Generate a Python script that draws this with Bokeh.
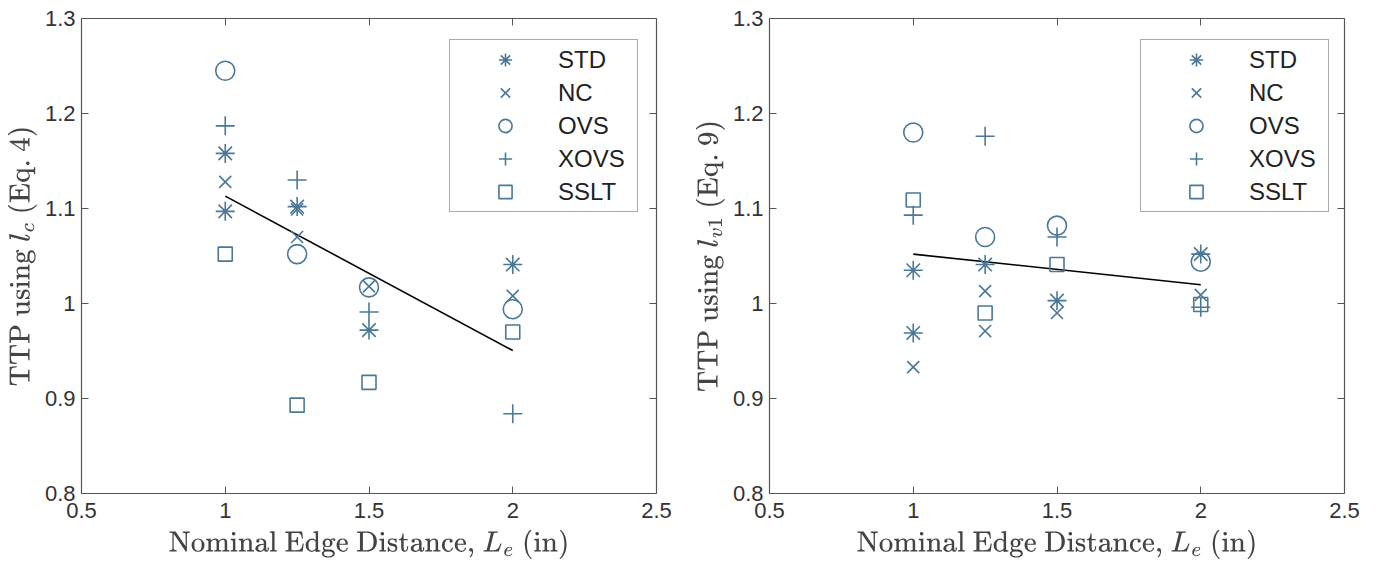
from bokeh.plotting import figure
from bokeh.layouts import row
from bokeh.models import LinearAxis, FixedTicker, CustomJSTickFormatter, Legend, LegendItem, Range1d
from bokeh.embed import file_html
from bokeh.resources import INLINE

series = ["STD", "NC", "OVS", "XOVS", "SSLT"]
markers = {"STD": "asterisk", "NC": "x", "OVS": "circle", "XOVS": "cross", "SSLT": "square"}
sizes = {"STD": 19, "NC": 17, "OVS": 19, "XOVS": 19, "SSLT": 14}

# Left panel: TTP using l_c (Eq. 4)
left_x = {
    "STD": [1, 1, 1.25, 1.5, 2],
    "NC": [1, 1.25, 1.25, 1.5, 2],
    "OVS": [1, 1.25, 1.5, 2],
    "XOVS": [1, 1.25, 1.5, 2],
    "SSLT": [1, 1.25, 1.5, 2],
}
left_y = {
    "STD": [1.158, 1.097, 1.102, 0.972, 1.041],
    "NC": [1.128, 1.099, 1.070, 1.018, 1.008],
    "OVS": [1.245, 1.052, 1.017, 0.994],
    "XOVS": [1.187, 1.130, 0.991, 0.884],
    "SSLT": [1.052, 0.893, 0.917, 0.970],
}
left_fit_x = [1, 2]
left_fit_y = [1.113, 0.9505]

# Right panel: TTP using l_v1 (Eq. 9)
right_x = {
    "STD": [1, 1, 1.25, 1.5, 2],
    "NC": [1, 1.25, 1.25, 1.5, 2],
    "OVS": [1, 1.25, 1.5, 2],
    "XOVS": [1, 1.25, 1.5, 2],
    "SSLT": [1, 1.25, 1.5, 2],
}
right_y = {
    "STD": [1.035, 0.969, 1.041, 1.003, 1.052],
    "NC": [0.933, 1.013, 0.971, 0.990, 1.009],
    "OVS": [1.180, 1.070, 1.082, 1.044],
    "XOVS": [1.093, 1.176, 1.070, 0.996],
    "SSLT": [1.109, 0.990, 1.041, 0.999],
}
right_fit_x = [1, 2]
right_fit_y = [1.052, 1.0197]

x_ticks = [0.5, 1, 1.5, 2, 2.5]
y_ticks = [0.8, 0.9, 1.0, 1.1, 1.2, 1.3]

COLOR = "#4a7896"
AXC = "#555555"

fmt_code = "return Number(tick.toFixed(2)).toString();"


def make_panel(xs, ys, fx, fy, ylabel, legend_x):
    p = figure(frame_width=575, frame_height=475, output_backend="svg", toolbar_location=None,
               x_range=Range1d(0.5, 2.5), y_range=Range1d(0.8, 1.3),
               min_border_left=81, min_border_right=32,
               min_border_top=18, min_border_bottom=68, background_fill_color="white",
               border_fill_color="white")
    p.grid.visible = False
    p.outline_line_color = None
    for ax, ticks in ((p.xaxis[0], x_ticks), (p.yaxis[0], y_ticks)):
        ax.ticker = FixedTicker(ticks=ticks)
        ax.formatter = CustomJSTickFormatter(code=fmt_code)
        ax.major_tick_in = 7
        ax.major_tick_out = 0
        ax.minor_tick_line_color = None
        ax.axis_line_color = AXC
        ax.major_tick_line_color = AXC
        ax.axis_line_width = 1.2
        ax.major_label_text_font = "Liberation Sans"
        ax.major_label_text_font_size = "22px"
        ax.major_label_text_color = "#333333"
        ax.axis_label_text_font_style = "normal"
        ax.axis_label_text_font_size = "24px"
        ax.axis_label_text_color = "#444444"
    p.xaxis[0].major_label_standoff = 9
    p.yaxis[0].major_label_standoff = 6
    p.xaxis[0].axis_label = r"$$\text{Nominal Edge Distance, } L_e \text{ (in)}$$"
    p.yaxis[0].axis_label = ylabel
    p.xaxis[0].axis_label_standoff = 9
    p.yaxis[0].axis_label_standoff = 5
    for loc, ticks in (("right", y_ticks), ("above", x_ticks)):
        ax = LinearAxis(ticker=FixedTicker(ticks=ticks), major_tick_in=7, major_tick_out=0,
                        minor_tick_line_color=None, axis_line_color=AXC, major_tick_line_color=AXC,
                        axis_line_width=1.2, formatter=CustomJSTickFormatter(code="return '';"),
                        major_label_standoff=0)
        p.add_layout(ax, loc)

    p.line(fx, fy, line_color="black", line_width=1.6)
    items = []
    for s in series:
        r = p.scatter(xs[s], ys[s], marker=markers[s], size=sizes[s], line_color=COLOR,
                      fill_color=None, line_width=1.6)
        items.append(LegendItem(label=s, renderers=[r]))
    leg = Legend(items=items, location=(legend_x, 281), label_text_font="Liberation Sans",
                 label_text_font_size="24px", label_text_color="#222222",
                 border_line_color=AXC, border_line_width=1.2, glyph_width=104, glyph_height=33,
                 label_width=76, label_height=33, spacing=0, padding=3, margin=0, label_standoff=1,
                 background_fill_alpha=1.0)
    p.add_layout(leg)
    return p


p1 = make_panel(left_x, left_y, left_fit_x, left_fit_y,
                r"$$\text{TTP using } l_c \text{ (Eq. 4)}$$", 368)
p2 = make_panel(right_x, right_y, right_fit_x, right_fit_y,
                r"$$\text{TTP using } l_{v1} \text{ (Eq. 9)}$$", 371)

p = row(p1, p2)
open("out.html", "w").write(file_html(p, INLINE))
